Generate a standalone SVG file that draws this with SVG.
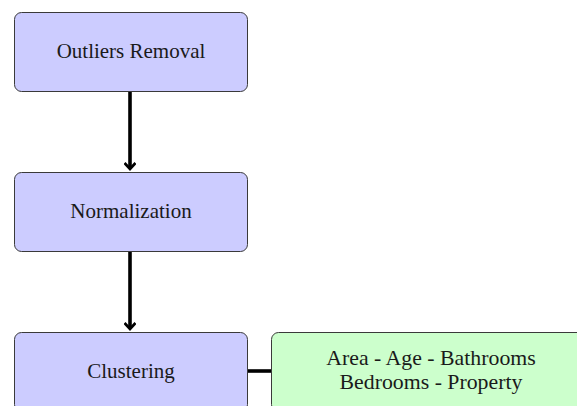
<svg xmlns="http://www.w3.org/2000/svg" width="577" height="406" viewBox="0 0 577 406">
<style>
.box{stroke:#3a3a3a;stroke-width:1}
.blue{fill:#ccccff}
.green{fill:#ccffcc}
.c{stroke:#000;stroke-width:3.6;fill:none}
</style>
<defs>
<marker id="ah" markerWidth="14" markerHeight="12" refX="7" refY="6" orient="auto" markerUnits="userSpaceOnUse" viewBox="0 0 14 12">
<path d="M1,0.5 L7,6 L1,11.5" fill="none" stroke="#000" stroke-width="2.8"/>
</marker>
</defs>
<g id="connectors">
<line class="c" x1="130" y1="91" x2="130" y2="169" marker-end="url(#ah)"/>
<line class="c" x1="130" y1="251" x2="130" y2="329" marker-end="url(#ah)"/>
<line class="c" x1="247" y1="371" x2="271" y2="371"/>
</g>
<g font-family="Liberation Serif" font-size="21" fill="#1a1a1a" text-anchor="middle">
<g id="outliers">
<rect class="box blue" x="14.5" y="12.5" width="233" height="79" rx="7"/>
<text x="131" y="58">Outliers Removal</text>
</g>
<g id="normalization">
<rect class="box blue" x="14.5" y="172.5" width="233" height="79" rx="7"/>
<text x="131" y="218">Normalization</text>
</g>
<g id="clustering">
<rect class="box blue" x="14.5" y="332.5" width="233" height="79" rx="7"/>
<text x="131" y="378">Clustering</text>
</g>
<g id="features">
<rect class="box green" x="271.5" y="332.5" width="320" height="79" rx="7"/>
<text x="431" y="365" font-size="21.8">Area - Age - Bathrooms</text>
<text x="431" y="389" font-size="21.8">Bedrooms - Property</text>
</g>
</g>
</svg>
